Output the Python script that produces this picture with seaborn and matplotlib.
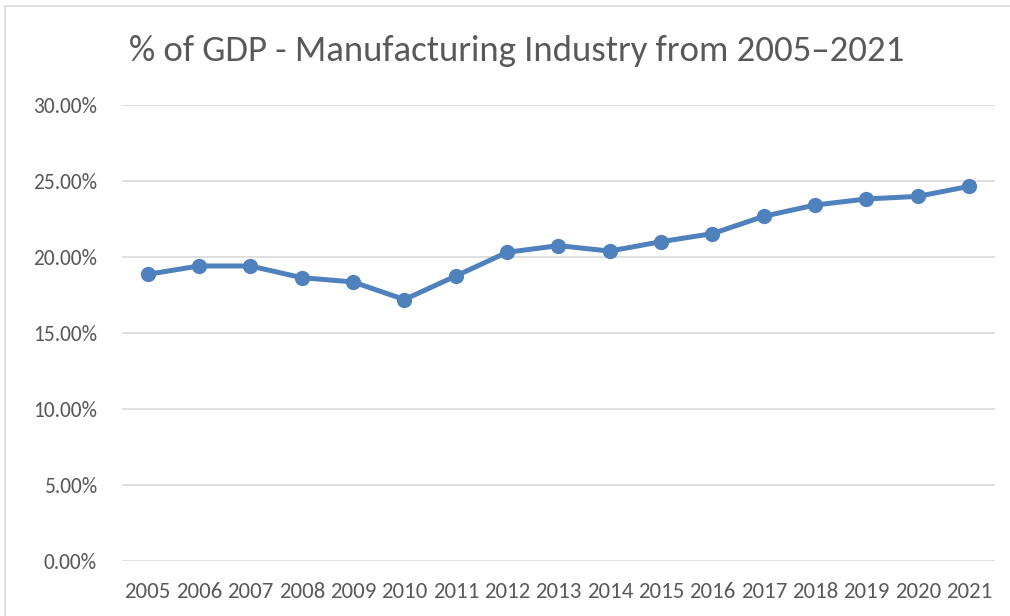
import matplotlib
matplotlib.use("Agg")
import matplotlib.pyplot as plt
from matplotlib.patches import Rectangle
from matplotlib.ticker import FuncFormatter
import seaborn as sns
import pandas as pd

years = [str(y) for y in range(2005, 2022)]
gdp_share = [18.86, 19.41, 19.41, 18.64, 18.36, 17.20, 18.75, 20.31, 20.75,
             20.39, 21.01, 21.54, 22.68, 23.42, 23.82, 23.99, 24.65]
y_ticks = [0, 5, 10, 15, 20, 25, 30]

sns.set_theme(style="white")
plt.rcParams["font.family"] = ["Carlito", "Lato", "DejaVu Sans"]

df = pd.DataFrame({"year": years, "share": gdp_share})

fig = plt.figure(figsize=(10.10, 6.16), dpi=100)
ax = fig.add_axes([0.1208, 0.0893, 0.985 - 0.1208, 0.8295 - 0.0893])

sns.lineplot(data=df, x="year", y="share", ax=ax, color="#4F81BD",
             linewidth=3.6, marker="o", markersize=11, markeredgewidth=0,
             sort=False)

ax.set_xlim(-0.5, len(years) - 0.5)
ax.set_ylim(0, 30)
ax.set_yticks(y_ticks)
ax.yaxis.set_major_formatter(FuncFormatter(lambda v, _: f"{v:.2f}%"))
ax.grid(axis="y", color="#D9D9D9", linewidth=1.2)
ax.grid(axis="x", visible=False)
ax.set_axisbelow(True)
for s in ax.spines.values():
    s.set_visible(False)
ax.set_xlabel("")
ax.set_ylabel("")
ax.tick_params(axis="both", length=0, colors="#595959")
ax.tick_params(axis="y", pad=18, labelsize=15.5)
ax.tick_params(axis="x", pad=15, labelsize=16.5)

fig.text(0.512, 0.918, "% of GDP - Manufacturing Industry from 2005\u20132021",
         ha="center", va="center", fontsize=26.5, color="#595959")

# chart frame
fig.patches.append(Rectangle((5 / 1010, -0.1), 1.2, 1.1 - 6 / 616,
                             transform=fig.transFigure, fill=False,
                             edgecolor="#D9D9D9", linewidth=1.2))

fig.savefig("out.png", dpi=100)
